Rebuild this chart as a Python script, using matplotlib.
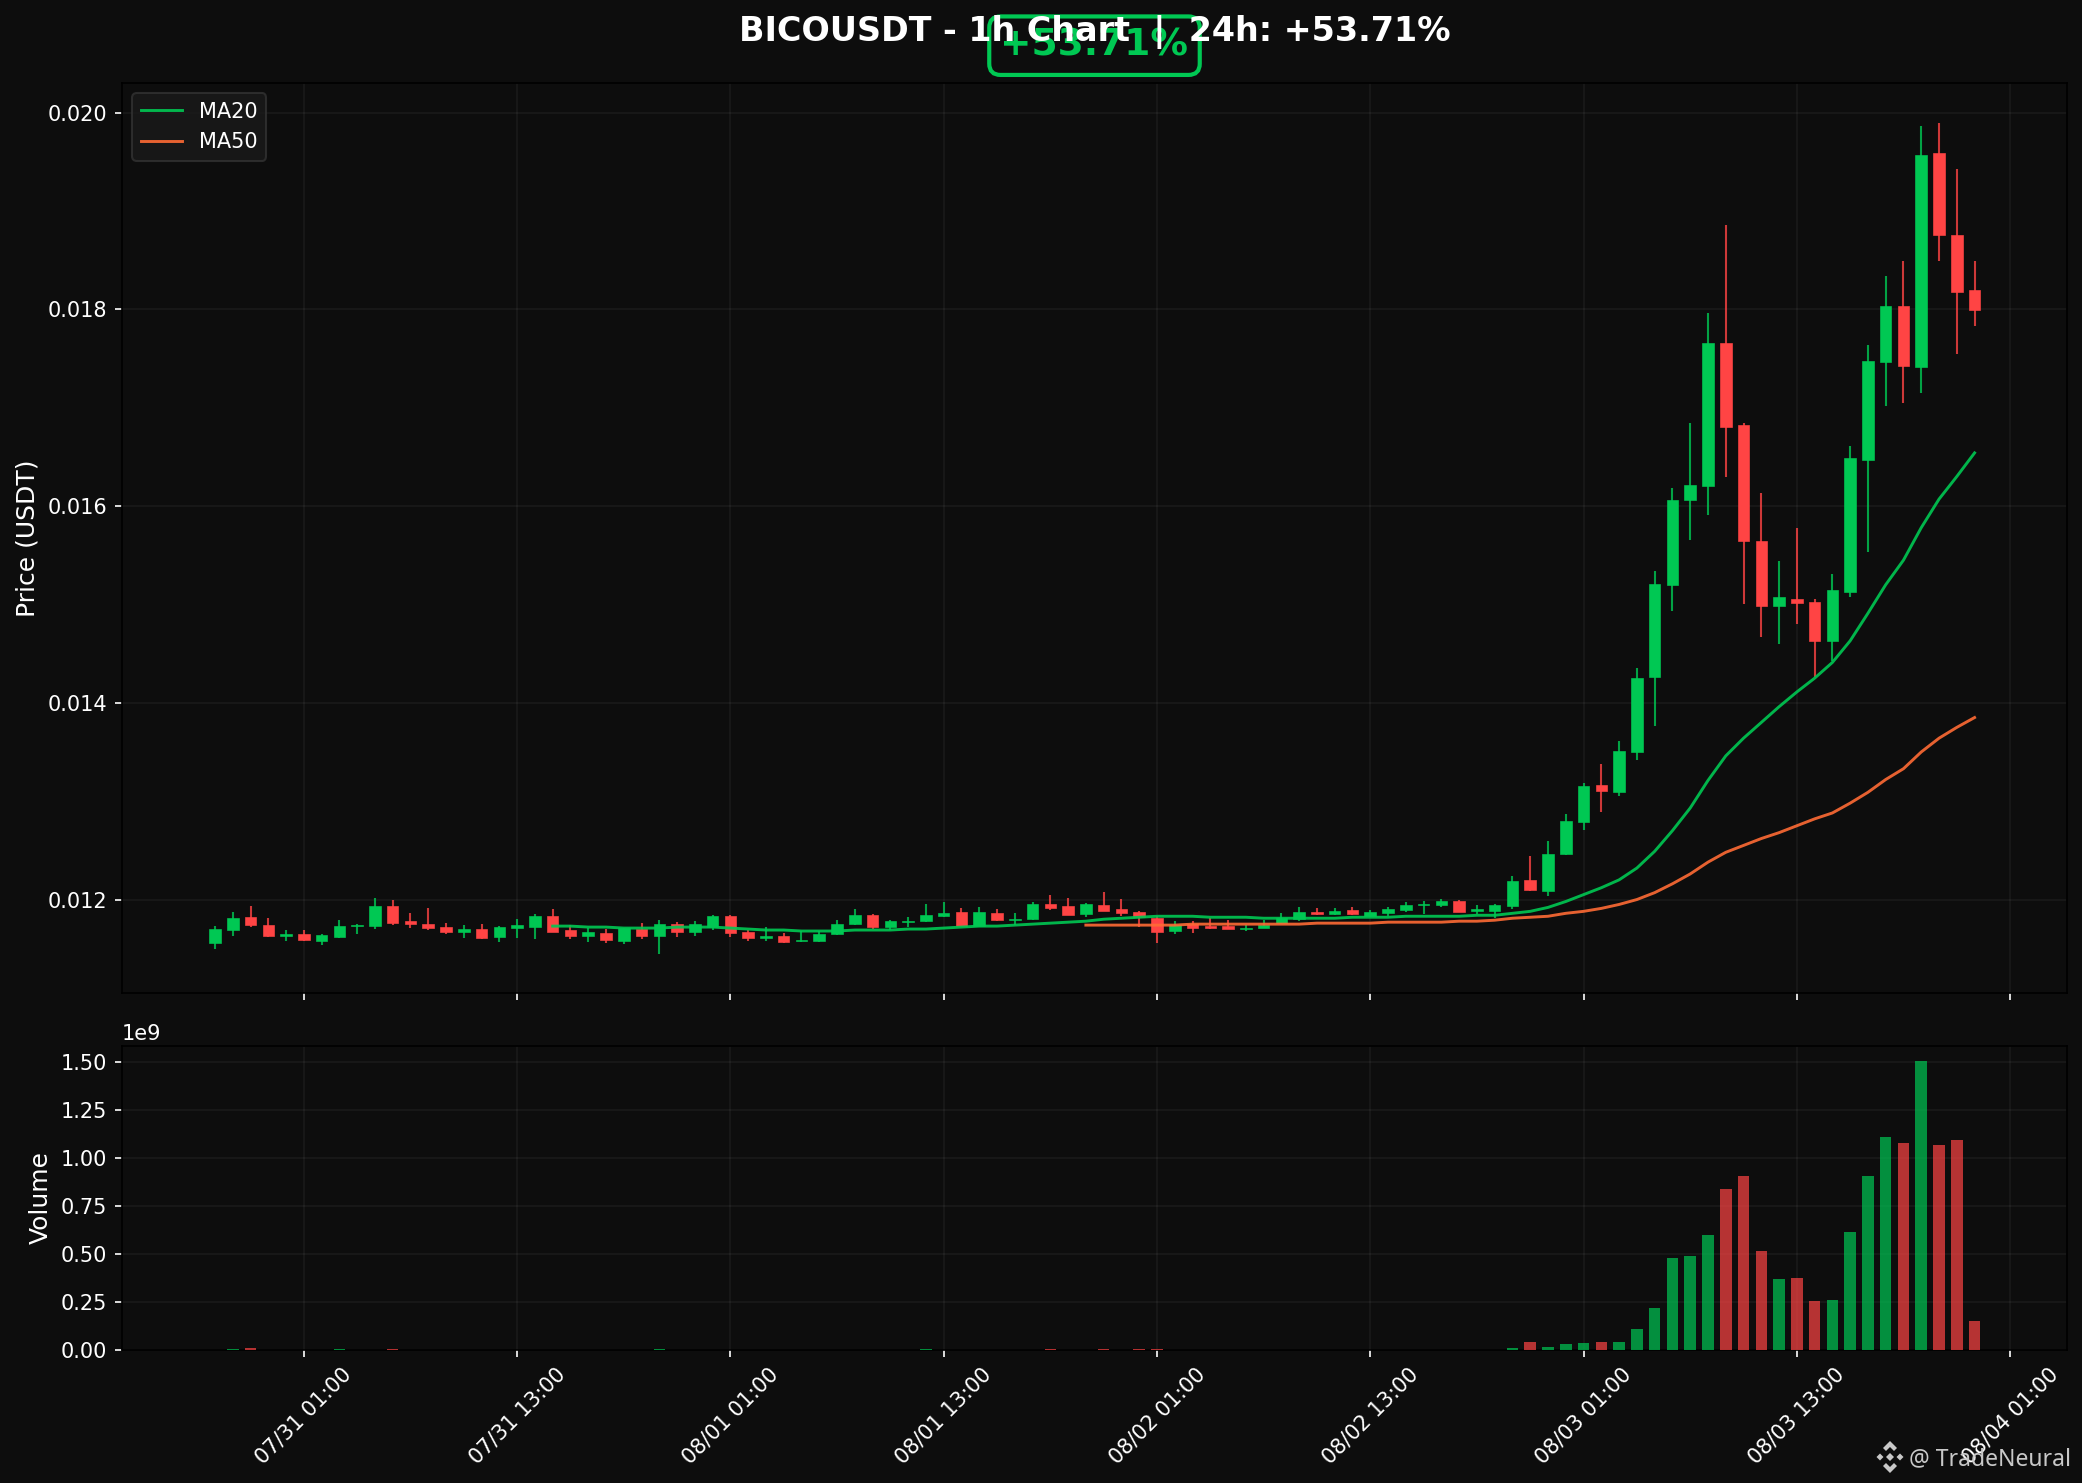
import numpy as np
import pandas as pd
import matplotlib
matplotlib.use("Agg")
import matplotlib.pyplot as plt
import matplotlib.dates as mdates
from matplotlib.patches import Polygon

W, H = 2082, 1483

# hourly candles
opens = [.01156, .01169, .01182, .01174, .01163, .01165, .01158, .01162, .01173, .01173,
         .01193, .01178, .01175, .01172, .01167, .01170, .01162, .01171, .01172, .01183,
         .01169, .01163, .01166, .01158, .01170, .01163, .01175, .01167, .01172, .01183,
         .01167, .01161, .01163, .01158, .01158, .01165, .01175, .01184, .01172, .01177,
         .01178, .01183, .01187, .01173, .01186, .01179, .01180, .01195, .01193, .01185,
         .01194, .01190, .01187, .01181, .01168, .01175, .01173, .01173, .01170, .01171,
         .01176, .01180, .01187, .01185, .01189, .01183, .01186, .01189, .01194, .01194,
         .01199, .01188, .01188, .01193, .01220, .01209, .01246, .01279, .01316, .01309,
         .01350, .01426, .01520, .01606, .01620, .01766, .01682, .01564, .01498, .01506,
         .01502, .01463, .01513, .01647, .01746, .01803, .01741, .01959, .01876, .01820]
highs = [.01173, .01187, .01193, .01181, .01169, .01169, .01165, .01179, .01175, .01202,
         .01200, .01186, .01191, .01176, .01174, .01175, .01173, .01180, .01185, .01190,
         .01174, .01171, .01170, .01171, .01176, .01179, .01177, .01178, .01184, .01184,
         .01169, .01172, .01166, .01168, .01168, .01179, .01190, .01185, .01179, .01182,
         .01195, .01198, .01191, .01192, .01190, .01186, .01197, .01205, .01202, .01196,
         .01208, .01201, .01188, .01183, .01178, .01178, .01181, .01179, .01174, .01179,
         .01186, .01192, .01191, .01191, .01192, .01189, .01192, .01197, .01199, .01201,
         .01200, .01194, .01195, .01224, .01244, .01259, .01287, .01318, .01338, .01361,
         .01435, .01534, .01618, .01684, .01796, .01886, .01684, .01613, .01544, .01578,
         .01505, .01531, .01661, .01764, .01834, .01849, .01986, .01989, .01943, .01849]
lows = [.01150, .01163, .01172, .01162, .01158, .01158, .01154, .01161, .01165, .01170,
        .01174, .01171, .01169, .01165, .01161, .01160, .01157, .01161, .01160, .01167,
        .01160, .01157, .01156, .01155, .01160, .01145, .01162, .01163, .01169, .01162,
        .01158, .01158, .01156, .01157, .01157, .01164, .01174, .01170, .01169, .01172,
        .01177, .01182, .01173, .01173, .01178, .01174, .01179, .01189, .01184, .01182,
        .01188, .01183, .01172, .01156, .01165, .01166, .01170, .01170, .01168, .01171,
        .01175, .01178, .01184, .01184, .01184, .01182, .01183, .01187, .01185, .01192,
        .01187, .01185, .01181, .01190, .01209, .01204, .01245, .01271, .01289, .01305,
        .01342, .01376, .01493, .01565, .01591, .01630, .01500, .01467, .01460, .01480,
        .01426, .01442, .01508, .01553, .01702, .01705, .01715, .01849, .01755, .01783]
closes = [.01170, .01181, .01174, .01163, .01165, .01159, .01164, .01173, .01174, .01193,
          .01176, .01175, .01171, .01167, .01170, .01161, .01172, .01174, .01183, .01167,
          .01163, .01167, .01159, .01171, .01163, .01175, .01167, .01175, .01183, .01166,
          .01161, .01163, .01157, .01159, .01165, .01175, .01184, .01172, .01178, .01178,
          .01184, .01186, .01173, .01187, .01179, .01180, .01195, .01191, .01184, .01195,
          .01188, .01186, .01182, .01167, .01174, .01171, .01171, .01170, .01171, .01174,
          .01181, .01187, .01185, .01188, .01185, .01187, .01190, .01194, .01195, .01199,
          .01187, .01190, .01194, .01219, .01210, .01246, .01280, .01315, .01310, .01351,
          .01425, .01521, .01606, .01621, .01766, .01680, .01564, .01498, .01508, .01501,
          .01463, .01515, .01649, .01747, .01803, .01742, .01957, .01875, .01818, .01799]

volumes = [2e6, 6e6, 1.1e7, 1e6, 1e6, 1e6, 1e6, 5e6, 1e6, 2e6,
           5e6, 1e6, 1e6, 1e6, 1e6, 1e6, 1e6, 1e6, 1e6, 1e6,
           1e6, 1e6, 1e6, 1e6, 1e6, 6e6, 1e6, 1e6, 1e6, 1e6,
           1e6, 1e6, 1e6, 1e6, 1e6, 1e6, 1e6, 1e6, 1e6, 1e6,
           5e6, 1e6, 1e6, 1e6, 1e6, 1e6, 1e6, 5e6, 1e6, 1e6,
           5e6, 1e6, 5e6, 5e6, 1e6, 1e6, 1e6, 1e6, 1e6, 1e6,
           1e6, 1e6, 1e6, 1e6, 1e6, 1e6, 1e6, 1e6, 1e6, 1e6,
           1e6, 1e6, 2e6, 1.2e7, 4.4e7, 1.7e7, 3.3e7, 3.8e7, 4.4e7, 4.4e7,
           1.12e8, 2.21e8, 4.78e8, 4.88e8, 5.98e8, 8.39e8, 9.07e8, 5.14e8, 3.68e8, 3.78e8,
           2.58e8, 2.63e8, 6.14e8, 9.07e8, 1.111e9, 1.08e9, 1.509e9, 1.069e9, 1.095e9, 1.53e8]

# moving averages as drawn, starting at candle 19 and candle 49
ma20 = [.01173, .01173, .01172, .01172, .01171, .01171, .01171, .01172, .01172, .01172,
        .01171, .01170, .01169, .01169, .01168, .01168, .01168, .01169, .01169, .01169,
        .01170, .01170, .01171, .01172, .01173, .01173, .01174, .01175, .01176, .01177,
        .01178, .01180, .01181, .01182, .01183, .01183, .01183, .01182, .01182, .01182,
        .01181, .01181, .01181, .01181, .01181, .01182, .01182, .01182, .01183, .01183,
        .01183, .01183, .01184, .01184, .01186, .01188, .01192, .01198, .01205, .01212,
        .01220, .01232, .01249, .01270, .01293, .01321, .01346, .01364, .01380, .01396,
        .01411, .01425, .01441, .01463, .01491, .01520, .01545, .01578, .01607, .01630,
        .01654]
ma50 = [.01174, .01174, .01174, .01174, .01174, .01174, .01175, .01175, .01175, .01175,
        .01175, .01175, .01175, .01176, .01176, .01176, .01176, .01177, .01177, .01177,
        .01177, .01178, .01178, .01179, .01181, .01182, .01183, .01186, .01188, .01191,
        .01195, .01200, .01207, .01216, .01226, .01238, .01248, .01255, .01262, .01268,
        .01275, .01282, .01288, .01298, .01309, .01322, .01333, .01350, .01364, .01375,
        .01385]

GREEN = "#00C853"
RED = "#FF4444"
BG = "#0D0D0D"

times = pd.date_range("2025-07-30 20:00", periods=len(closes), freq="h")
x = mdates.date2num(times)
hour = 1 / 24
opens, highs, lows, closes = map(np.array, (opens, highs, lows, closes))
colors = [GREEN if c >= o else RED for o, c in zip(opens, closes)]

fig = plt.figure(figsize=(W / 150, H / 150), dpi=150, facecolor=BG)
ax = fig.add_axes([122 / W, 1 - 993 / H, (2067 - 122) / W, (993 - 83) / H], facecolor=BG)
ax_vol = fig.add_axes([122 / W, 1 - 1350 / H, (2067 - 122) / W, (1350 - 1046) / H], facecolor=BG, sharex=ax)

# candles
ax.vlines(x, lows, highs, colors=colors, linewidth=1.0, alpha=0.8, zorder=2)
ax.bar(x, np.abs(closes - opens), bottom=np.minimum(opens, closes), width=0.65 * hour,
       color=colors, edgecolor=colors, linewidth=0.3, zorder=3)
ax.plot(x[19:], ma20, color=GREEN, linewidth=1.4, alpha=0.9, label="MA20", zorder=4)
ax.plot(x[49:], ma50, color="#FF6B35", linewidth=1.4, alpha=0.9, label="MA50", zorder=4)

ax_vol.bar(x, volumes, width=0.65 * hour, color=colors, alpha=0.7, zorder=3)

ax.set_xlim(x[0] - 5.23 * hour, x[0] + 104.2 * hour)
ax.set_ylim(0.01105, 0.0203)
ax_vol.set_ylim(0, 1.585e9)
ax.set_yticks([0.012, 0.014, 0.016, 0.018, 0.020])
ax.yaxis.set_major_formatter(matplotlib.ticker.FormatStrFormatter("%.3f"))

ax_vol.xaxis.set_major_locator(mdates.HourLocator(byhour=[1, 13]))
ax_vol.xaxis.set_major_formatter(mdates.DateFormatter("%m/%d %H:%M"))
plt.setp(ax.get_xticklabels(), visible=False)
plt.setp(ax_vol.get_xticklabels(), rotation=45)

for a in (ax, ax_vol):
    a.grid(True, color="white", alpha=0.05, linewidth=0.8, zorder=0)
    a.set_axisbelow(True)
    a.tick_params(colors="white", labelsize=10)
    a.yaxis.get_offset_text().set_color("white")
    a.yaxis.get_offset_text().set_fontsize(10)
    for s in a.spines.values():
        s.set_color("black")

ax.set_ylabel("Price (USDT)", color="white", fontsize=12, labelpad=4)
ax_vol.set_ylabel("Volume", color="white", fontsize=12, labelpad=4)

ax.legend(loc="upper left", fontsize=10, facecolor="#1a1a1a", edgecolor="#333333", labelcolor="white")

ax.set_title("BICOUSDT - 1h Chart  |  24h: +53.71%", color="white", fontsize=16, fontweight="bold", pad=20, zorder=5)
ax.text(0.5, 1.041, "+53.71%", transform=ax.transAxes, ha="center", va="center", color=GREEN,
        fontsize=18, fontweight="bold", zorder=1,
        bbox=dict(boxstyle="round,pad=0.3", facecolor=BG, edgecolor=GREEN, linewidth=2))

# watermark
cx, cy = 1890, 1457
logo = [
    [(0, -16), (7, -9), (4, -6), (0, -10), (-4, -6), (-7, -9)],
    [(0, 16), (7, 9), (4, 6), (0, 10), (-4, 6), (-7, 9)],
    [(0, -4), (4, 0), (0, 4), (-4, 0)],
    [(-10, -3.5), (-6.5, 0), (-10, 3.5), (-13.5, 0)],
    [(10, -3.5), (13.5, 0), (10, 3.5), (6.5, 0)],
]
for pts in logo:
    fig.add_artist(Polygon([((cx + px) / W, 1 - (cy + py) / H) for px, py in pts],
                           transform=fig.transFigure, facecolor="#c8c8c8", edgecolor="none"))
fig.text(1909 / W, 1 - 1465 / H, "@ TradeNeural", color="#c8c8c8", fontsize=11, family="Noto Sans", va="baseline")

fig.savefig("out.png", dpi=150, facecolor=fig.get_facecolor())
